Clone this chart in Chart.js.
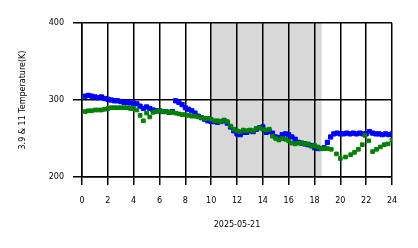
<!DOCTYPE html>
<html>
<head>
<meta charset="utf-8">
<script src="https://cdn.jsdelivr.net/npm/chart.js@4.4.0/dist/chart.umd.min.js"></script>
<style>
  html, body { margin: 0; padding: 0; background: #fff; }
  #wrap { width: 418px; height: 248px; }
</style>
</head>
<body>
<div id="wrap"><canvas id="cv"></canvas></div>
<script>
// hours of the day and temperatures (K)
let blueHours = [0.25,0.5,0.75,1,1.25,1.5,1.75,2,2.25,2.5,2.75,3,3.25,3.5,3.75,4,4.25,4.5,4.75,5,5.25,5.5,5.75,6,6.25,6.5,6.75,7,7.25,7.5,7.75,8,8.25,8.5,8.75,9,9.25,9.5,9.75,10,10.25,10.5,10.75,11,11.25,11.5,11.75,12,12.25,12.5,12.75,13,13.25,13.5,13.75,14,14.25,14.5,14.75,15,15.25,15.5,15.75,16,16.25,16.5,16.75,17,17.25,17.5,17.75,18,18.25,18.5,18.75,19,19.25,19.5,19.75,20,20.25,20.5,20.75,21,21.25,21.5,21.75,22,22.25,22.5,22.75,23,23.25,23.5,23.75,24];
let blueTemp = [305,306,305,304,303,304,302,301,300,299,299,298,297,297,296,296,295,292,289,291,289,287,286,286,285,285,284,285,299,297,294,290,288,286,283,279,277,275,273,272,272,271,272,273,270,265,260,256,255,258,258,260,259,262,264,265,258,259,257,252,251,255,256,255,252,249,245,244,243,242,241,238,237,237,238,245,252,256,257,256,256,257,256,257,256,257,256,256,259,257,256,256,255,256,255,256,257];

let greenHours = [0.25,0.5,0.75,1,1.25,1.5,1.75,2,2.25,2.5,2.75,3,3.25,3.5,3.75,4,4.25,4.5,4.75,5,5.25,5.5,5.75,6,6.25,6.5,6.75,7,7.25,7.5,7.75,8,8.25,8.5,8.75,9,9.25,9.5,9.75,10,10.25,10.5,10.75,11,11.25,11.5,11.75,12,12.25,12.5,12.75,13,13.25,13.5,13.75,14,14.25,14.5,14.75,15,15.25,15.5,15.75,16,16.25,16.5,16.75,17,17.25,17.5,17.75,18,18.25,18.5,18.75,19,19.3,19.7,20,20.4,20.8,21.1,21.4,21.7,21.9,22.2,22.5,22.8,23.1,23.4,23.7,24];
let greenTemp = [285,286,286,287,287,287,288,289,290,290,290,290,290,290,289,289,287,280,273,283,278,284,285,286,285,285,284,284,283,282,281,281,280,279,279,278,277,276,276,275,273,273,272,274,272,266,262,260,259,261,260,261,260,263,264,262,261,262,253,250,248,250,249,247,244,243,244,244,243,243,240,241,239,237,237,237,236,230,224,226,229,232,236,242,254,247,233,236,239,242,243,248];

let xTicks = [0,2,4,6,8,10,12,14,16,18,20,22,24];
let shadeRange = [9.9, 18.55];

function pts(h, v) {
  var out = [];
  for (var i = 0; i < h.length; i++) out.push({x: h[i], y: v[i]});
  return out;
}

var shade = {
  id: 'shade',
  beforeDraw: function(chart) {
    var c = chart.ctx, a = chart.chartArea, x = chart.scales.x;
    var x0 = x.getPixelForValue(shadeRange[0]);
    var x1 = x.getPixelForValue(shadeRange[1]);
    c.save();
    c.fillStyle = '#d8d8d8';
    c.fillRect(x0, a.top, x1 - x0, a.bottom - a.top);
    c.restore();
  }
};

Chart.defaults.font.family = 'DejaVu Sans';
Chart.defaults.font.size = 8;
Chart.defaults.color = '#000';

var ctx = document.getElementById('cv').getContext('2d');
var myChart = new Chart(ctx, {
  type: 'scatter',
  data: {
    datasets: [{
      label: '11',
      data: pts(greenHours, greenTemp),
      backgroundColor: '#008000',
      borderColor: '#008000',
      pointStyle: 'rect',
      pointRadius: 2.6,
      borderWidth: 1,
      order: 1
    }, {
      label: '3.9',
      data: pts(blueHours, blueTemp),
      backgroundColor: '#0000ff',
      borderColor: '#0000ff',
      pointStyle: 'rect',
      pointRadius: 3,
      borderWidth: 1,
      order: 2
    }]
  },
  plugins: [shade],
  options: {
    responsive: true,
    maintainAspectRatio: false,
    animation: false,
    layout: { padding: { top: 23, right: 26, left: 0, bottom: 0 } },
    plugins: { legend: { display: false }, tooltip: { enabled: false } },
    scales: {
      x: {
        type: 'linear',
        min: 0, max: 24,
        afterBuildTicks: function(s) { s.ticks = xTicks.map(function(v) { return {value: v}; }); },
        afterFit: function(s) { s.height = 71; },
        ticks: { padding: 11, maxRotation: 0, autoSkip: false },
        grid: { color: '#000', lineWidth: 1.5, tickLength: 8, tickColor: '#000', tickWidth: 1.5 },
        border: { display: true, color: '#000', width: 1.5 },
        title: { display: true, text: '2025-05-21', padding: 18 }
      },
      y: {
        min: 200, max: 400,
        ticks: { stepSize: 100, padding: 9 },
        afterFit: function(s) { s.width = 82; },
        grid: { color: '#000', lineWidth: 1.5, tickLength: 9, tickColor: '#000', tickWidth: 1.5 },
        border: { display: true, color: '#000', width: 1.5 },
        title: { display: true, text: '3.9 & 11 Temperature(K)', padding: 18 }
      }
    }
  }
});
</script>
</body>
</html>
